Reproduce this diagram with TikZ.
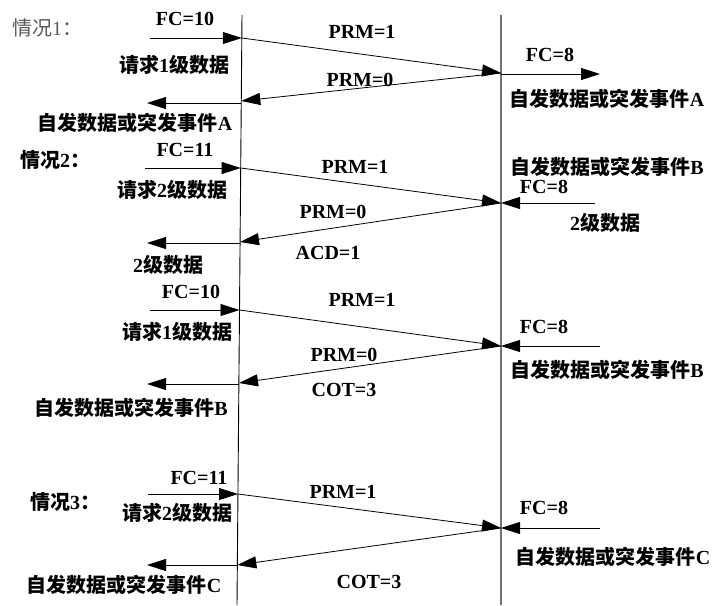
\documentclass[tikz,border=0pt]{standalone}
\usepackage{fontspec}
\setmainfont{Liberation Serif}
\newfontfamily\cjkfont{Noto Sans CJK SC}
\usetikzlibrary{arrows.meta}
\newcommand\zh[1]{{\cjkfont #1}}
\begin{document}
\begin{tikzpicture}[x=1pt,y=-1pt,
  lbl/.style={font=\fontsize{20}{22}\selectfont\bfseries, inner sep=0pt, text=black},
  case/.style={font=\fontsize{20}{22}\selectfont, inner sep=0pt, anchor=west},
  msg/.style={-{Triangle[length=19pt,width=12pt]}, line width=0.8pt, black},
  lifeL/.style={line width=0.9pt, black},
  lifeR/.style={line width=1.3pt, black!55}]
\useasboundingbox (0,0) rectangle (719,605);
% lifelines
\coordinate (LT) at (242,15); \coordinate (LB) at (237,605);
\coordinate (RT) at (501,15); \coordinate (RB) at (501,605);
\draw[lifeL] (LT) -- (LB);
\draw[lifeR] (RT) -- (RB);

% ---------- case 1 ----------
\node[case, text=black!65] (c1) at (12,28) {\zh{情况}1\zh{：}};
\node[lbl] (fc10a) at (185,19) {FC=10};
\coordinate (s1a) at (150,38); \coordinate (l1a) at (241.8,38);
\draw[msg] (s1a) -- (l1a);
\node[lbl] (req1a) at (174,65) {\zh{请求}1\zh{级数据}};
\coordinate (r1) at (501,73);
\draw[msg] (l1a) -- (r1);
\node[lbl] (prm1a) at (362,32) {PRM=1};
\coordinate (l1b) at (241.3,101);
\draw[msg] (r1) -- (l1b);
\node[lbl] (prm0a) at (360,80) {PRM=0};
\coordinate (l1c) at (241.3,103); \coordinate (e1) at (147,103);
\draw[msg] (l1c) -- (e1);
\node[lbl] (evA1) at (135,123) {\zh{自发数据或突发事件}A};
\coordinate (r1o) at (501,74); \coordinate (r1e) at (600,74);
\draw[msg] (r1o) -- (r1e);
\node[lbl] (fc8a) at (550,55) {FC=8};
\node[lbl] (evA2) at (607,99) {\zh{自发数据或突发事件}A};

% ---------- case 2 ----------
\node[case, font=\fontsize{20}{22}\selectfont\bfseries] (c2) at (20,160) {\zh{情况}2\zh{：}};
\node[lbl] (fc11a) at (185,150) {FC=11};
\coordinate (s2a) at (145,168); \coordinate (l2a) at (240.7,168);
\draw[msg] (s2a) -- (l2a);
\node[lbl] (req2a) at (172,190) {\zh{请求}2\zh{级数据}};
\coordinate (r2) at (501,203);
\draw[msg] (l2a) -- (r2);
\node[lbl] (prm1b) at (355,167) {PRM=1};
\coordinate (l2b) at (240,242);
\draw[msg] (r2) -- (l2b);
\node[lbl] (prm0b) at (333,212) {PRM=0};
\node[lbl] (acd) at (328,253) {ACD=1};
\coordinate (l2c) at (240,243); \coordinate (e2) at (147,243);
\draw[msg] (l2c) -- (e2);
\node[lbl] (lv2a) at (168,265) {2\zh{级数据}};
\node[lbl] (evB1) at (607,167) {\zh{自发数据或突发事件}B};
\node[lbl] (fc8b) at (544,187) {FC=8};
\coordinate (r2s) at (595,203);
\draw[msg] (r2s) -- (r2);
\node[lbl] (lv2b) at (605,223) {2\zh{级数据}};

% ---------- case 2b ----------
\node[lbl] (fc10b) at (191,292) {FC=10};
\coordinate (s3a) at (150,310); \coordinate (l3a) at (239.5,310);
\draw[msg] (s3a) -- (l3a);
\node[lbl] (req1b) at (177,332) {\zh{请求}1\zh{级数据}};
\coordinate (r3) at (501,346);
\draw[msg] (l3a) -- (r3);
\node[lbl] (prm1c) at (362,300) {PRM=1};
\coordinate (l3b) at (239,383);
\draw[msg] (r3) -- (l3b);
\node[lbl] (prm0c) at (344,355) {PRM=0};
\node[lbl] (cot1) at (344,390) {COT=3};
\coordinate (l3c) at (239,384); \coordinate (e3) at (147,384);
\draw[msg] (l3c) -- (e3);
\node[lbl] (evB2) at (131,408) {\zh{自发数据或突发事件}B};
\node[lbl] (fc8c) at (544,327) {FC=8};
\coordinate (r3s) at (600,346);
\draw[msg] (r3s) -- (r3);
\node[lbl] (evB3) at (607,370) {\zh{自发数据或突发事件}B};

% ---------- case 3 ----------
\node[case, font=\fontsize{20}{22}\selectfont\bfseries] (c3) at (30,502) {\zh{情况}3\zh{：}};
\node[lbl] (fc11b) at (199,478) {FC=11};
\coordinate (s4a) at (148,494); \coordinate (l4a) at (238,494);
\draw[msg] (s4a) -- (l4a);
\node[lbl] (req2b) at (177,513) {\zh{请求}2\zh{级数据}};
\coordinate (r4) at (501,528);
\draw[msg] (l4a) -- (r4);
\node[lbl] (prm1d) at (343,492) {PRM=1};
\coordinate (l4b) at (237.3,565);
\draw[msg] (r4) -- (l4b);
\node[lbl] (cot2) at (369,582) {COT=3};
\coordinate (e4) at (147,565);
\draw[msg] (l4b) -- (e4);
\node[lbl] (evC1) at (124,585) {\zh{自发数据或突发事件}C};
\node[lbl] (fc8d) at (544,508) {FC=8};
\coordinate (r4s) at (600,528);
\draw[msg] (r4s) -- (r4);
\node[lbl] (evC2) at (613,557) {\zh{自发数据或突发事件}C};
\end{tikzpicture}
\end{document}
